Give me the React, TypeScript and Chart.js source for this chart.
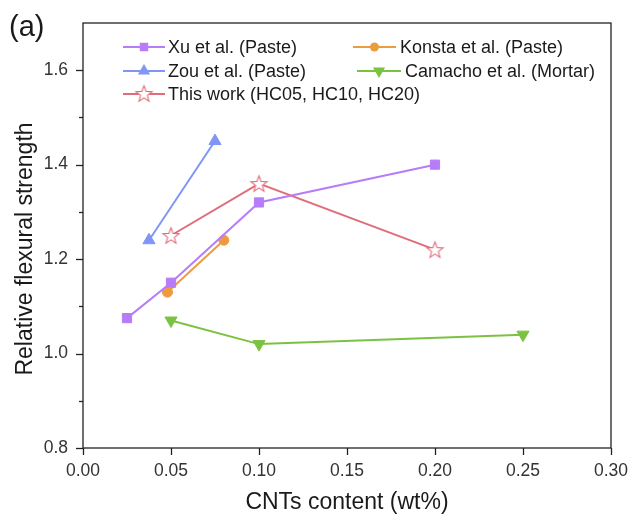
import React, { useEffect, useRef } from "react";
import { Chart, registerables } from "chart.js";

Chart.register(...registerables);

const X_LABEL = "CNTs content (wt%)";
const Y_LABEL = "Relative flexural strength";
const PANEL = "(a)";

const X_TICKS = [0, 0.05, 0.1, 0.15, 0.2, 0.25, 0.3];
const Y_TICKS = [0.8, 0.9, 1.0, 1.1, 1.2, 1.3, 1.4, 1.5, 1.6];

const XU_X = [0.025, 0.05, 0.1, 0.2];
const XU_Y = [1.075, 1.15, 1.32, 1.4];
const KONSTA_X = [0.048, 0.08];
const KONSTA_Y = [1.13, 1.24];
const ZOU_X = [0.0375, 0.075];
const ZOU_Y = [1.24, 1.45];
const CAMACHO_X = [0.05, 0.1, 0.25];
const CAMACHO_Y = [1.07, 1.02, 1.04];
const THIS_X = [0.05, 0.1, 0.2];
const THIS_Y = [1.25, 1.36, 1.22];

const SERIES_NAMES = [
  "Xu et al. (Paste)",
  "Konsta et al. (Paste)",
  "Zou et al. (Paste)",
  "Camacho et al. (Mortar)",
  "This work (HC05, HC10, HC20)",
];

const C_XU = "#b77cf7";
const C_KONSTA = "#ec9c3f";
const C_ZOU = "#7f96f5";
const C_CAMACHO = "#7cc242";
const C_THIS = "#e06d7b";

const FONT = "'Liberation Sans', Arial, sans-serif";
const TEXT = "#1a1a1a";

function zip(xs: number[], ys: number[]) {
  return xs.map((x, i) => ({ x, y: ys[i] }));
}

function starPath(ctx: CanvasRenderingContext2D, cx: number, cy: number, R: number, r: number) {
  ctx.beginPath();
  for (let i = 0; i < 10; i++) {
    const rad = i % 2 === 0 ? R : r;
    const a = -Math.PI / 2 + (i * Math.PI) / 5;
    const px = cx + rad * Math.cos(a);
    const py = cy + rad * Math.sin(a);
    if (i === 0) ctx.moveTo(px, py);
    else ctx.lineTo(px, py);
  }
  ctx.closePath();
}

function drawMarker(ctx: CanvasRenderingContext2D, style: string, r: number, rot: number, x: number, y: number) {
  ctx.beginPath();
  if (style === "circle") {
    ctx.arc(x, y, r, 0, Math.PI * 2);
  } else if (style === "rect") {
    const s = Math.SQRT1_2 * r;
    ctx.rect(x - s, y - s, 2 * s, 2 * s);
  } else {
    let rad = (rot * Math.PI) / 180;
    ctx.moveTo(x + Math.sin(rad) * r, y - Math.cos(rad) * r);
    rad += (2 * Math.PI) / 3;
    ctx.lineTo(x + Math.sin(rad) * r, y - Math.cos(rad) * r);
    rad += (2 * Math.PI) / 3;
    ctx.lineTo(x + Math.sin(rad) * r, y - Math.cos(rad) * r);
    ctx.closePath();
  }
  ctx.fill();
}

export default function App() {
  const ref = useRef<HTMLCanvasElement | null>(null);

  useEffect(() => {
    document.body.style.margin = "0";
    const canvas = ref.current;
    if (!canvas) return;

    const starImg = (() => {
      const R = 8.5;
      const size = Math.ceil(R * 2 + 4);
      const c = document.createElement("canvas");
      c.width = size;
      c.height = size;
      const ctx = c.getContext("2d")!;
      starPath(ctx, size / 2, size / 2 + 0.8, R, R * 0.42);
      ctx.fillStyle = "#ffffff";
      ctx.fill();
      ctx.lineWidth = 1.1;
      ctx.strokeStyle = C_THIS;
      ctx.stroke();
      return c;
    })();

    const framePlugin = {
      id: "frameAndText",
      afterDraw(chart: any) {
        const { ctx, chartArea } = chart;
        const { left, right, top, bottom } = chartArea;
        ctx.save();
        ctx.strokeStyle = "#222";
        ctx.lineWidth = 1.3;
        ctx.strokeRect(left, top, right - left, bottom - top);
        const ys = chart.scales.y;
        Y_TICKS.forEach((v, i) => {
          const py = Math.round(ys.getPixelForValue(v)) + 0.5;
          ctx.beginPath();
          ctx.moveTo(left, py);
          ctx.lineTo(left - (i % 2 === 0 ? 7 : 4), py);
          ctx.stroke();
        });
        const xs = chart.scales.x;
        X_TICKS.forEach((v) => {
          const px = Math.round(xs.getPixelForValue(v)) + 0.5;
          ctx.beginPath();
          ctx.moveTo(px, bottom);
          ctx.lineTo(px, bottom + 7);
          ctx.stroke();
        });
        ctx.fillStyle = TEXT;
        ctx.font = `23px ${FONT}`;
        ctx.textAlign = "center";
        ctx.textBaseline = "middle";
        ctx.fillText(X_LABEL, (left + right) / 2, 503);
        ctx.save();
        ctx.translate(26, 249);
        ctx.rotate(-Math.PI / 2);
        ctx.fillText(Y_LABEL, 0, 0);
        ctx.restore();
        ctx.font = `29px ${FONT}`;
        ctx.textAlign = "left";
        ctx.fillText(PANEL, 9, 28);

        const ds = chart.data.datasets;
        const entries = [
          { i: 0, x1: 123, x2: 165, tx: 168, y: 47 },
          { i: 1, x1: 353, x2: 396, tx: 400, y: 47 },
          { i: 2, x1: 123, x2: 165, tx: 168, y: 71 },
          { i: 3, x1: 357, x2: 401, tx: 405, y: 71 },
          { i: 4, x1: 123, x2: 165, tx: 168, y: 94 },
        ];
        ctx.font = `18px ${FONT}`;
        ctx.textBaseline = "middle";
        entries.forEach((e) => {
          const d = ds[e.i];
          ctx.strokeStyle = d.borderColor;
          ctx.lineWidth = 2;
          ctx.beginPath();
          ctx.moveTo(e.x1, e.y);
          ctx.lineTo(e.x2, e.y);
          ctx.stroke();
          const cx = (e.x1 + e.x2) / 2;
          if (d.pointStyle instanceof HTMLCanvasElement) {
            const img = d.pointStyle as HTMLCanvasElement;
            const w = img.width;
            ctx.drawImage(img, cx - w / 2, e.y - w / 2 - 0.5, w, w);
          } else {
            ctx.fillStyle = d.backgroundColor;
            const r = d.pointStyle === "circle" ? 4.5 : d.pointStyle === "rect" ? 6 : 7;
            drawMarker(ctx, d.pointStyle, r, d.pointRotation || 0, cx, e.y);
          }
          ctx.fillStyle = TEXT;
          ctx.fillText(SERIES_NAMES[e.i], e.tx, e.y + 1);
        });
        ctx.restore();
      },
    };

    const common = {
      borderWidth: 2,
      pointBorderWidth: 1,
      showLine: true,
      tension: 0,
    };

    const chart = new Chart(canvas, {
      type: "scatter",
      data: {
        datasets: [
          { ...common, label: SERIES_NAMES[0], data: zip(XU_X, XU_Y), borderColor: C_XU, backgroundColor: C_XU, pointStyle: "rect", pointRadius: 6.5 },
          { ...common, label: SERIES_NAMES[1], data: zip(KONSTA_X, KONSTA_Y), borderColor: C_KONSTA, backgroundColor: C_KONSTA, pointStyle: "circle", pointRadius: 5 },
          { ...common, label: SERIES_NAMES[2], data: zip(ZOU_X, ZOU_Y), borderColor: C_ZOU, backgroundColor: C_ZOU, pointStyle: "triangle", pointRadius: 7 },
          { ...common, label: SERIES_NAMES[3], data: zip(CAMACHO_X, CAMACHO_Y), borderColor: C_CAMACHO, backgroundColor: C_CAMACHO, pointStyle: "triangle", pointRotation: 180, pointRadius: 7 },
          { ...common, label: SERIES_NAMES[4], data: zip(THIS_X, THIS_Y), borderColor: C_THIS, backgroundColor: "#ffffff", pointStyle: starImg as any, pointRadius: 9 },
        ] as any,
      },
      options: {
        animation: false,
        responsive: false,
        maintainAspectRatio: false,
        layout: { padding: { left: 0, right: 19, top: 23, bottom: 0 } },
        plugins: {
          legend: { display: false },
          tooltip: { enabled: false },
          title: { display: false },
        },
        scales: {
          x: {
            type: "linear",
            min: 0,
            max: 0.3,
            afterBuildTicks: (s: any) => {
              s.ticks = X_TICKS.map((v) => ({ value: v }));
            },
            afterFit: (s: any) => {
              s.height = 69;
              s.paddingLeft = 0;
              s.paddingRight = 0;
            },
            grid: { drawOnChartArea: false, drawTicks: true, tickLength: 7, color: "rgba(0,0,0,0)" },
            border: { display: false },
            ticks: {
              color: "#333",
              font: { family: FONT, size: 17.5 },
              padding: 6,
              maxRotation: 0,
              autoSkip: false,
              callback: (v: any) => Number(v).toFixed(2),
            },
          },
          y: {
            type: "linear",
            min: 0.8,
            max: 1.7,
            afterBuildTicks: (s: any) => {
              s.ticks = Y_TICKS.map((v) => ({ value: v }));
            },
            afterFit: (s: any) => {
              s.width = 83;
              s.paddingTop = 0;
              s.paddingBottom = 0;
            },
            grid: { drawOnChartArea: false, drawTicks: true, tickLength: 7, color: "rgba(0,0,0,0)" },
            border: { display: false },
            ticks: {
              color: "#333",
              font: { family: FONT, size: 17.5 },
              padding: 8,
              autoSkip: false,
              callback: (v: any) => {
                const i = Y_TICKS.findIndex((t) => Math.abs(t - Number(v)) < 1e-6);
                return i % 2 === 0 ? Number(v).toFixed(1) : "";
              },
            },
          },
        },
      },
      plugins: [framePlugin],
    });

    return () => chart.destroy();
  }, []);

  return (
    <div style={{ width: 630, height: 517, background: "#fff" }}>
      <canvas ref={ref} width={630} height={517} style={{ width: 630, height: 517, display: "block" }} />
    </div>
  );
}
